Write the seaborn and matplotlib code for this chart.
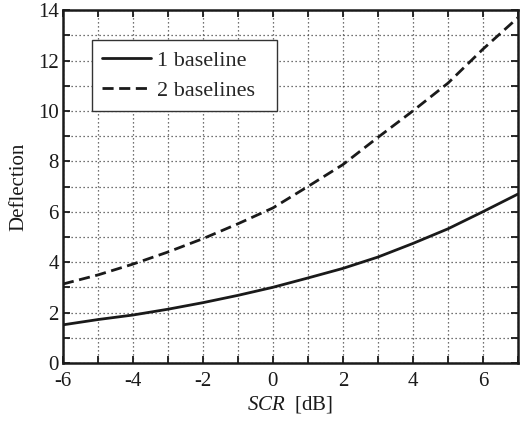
import numpy as np
import pandas as pd
import matplotlib
matplotlib.use("Agg")
import matplotlib.pyplot as plt
import seaborn as sns
from matplotlib.ticker import MultipleLocator, FuncFormatter
from matplotlib.lines import Line2D

scr_db = [-6, -5, -4, -3, -2, -1, 0, 1, 2, 3, 4, 5, 6, 7]
one_baseline = [1.51, 1.72, 1.9, 2.13, 2.39, 2.68, 3.0, 3.37, 3.75, 4.2, 4.74, 5.32, 6.0, 6.7]
two_baselines = [3.13, 3.49, 3.92, 4.4, 4.93, 5.52, 6.15, 7.0, 7.87, 8.95, 10.0, 11.1, 12.45, 13.7]
series_names = ["1 baseline", "2 baselines"]

df = pd.concat([
    pd.DataFrame({"SCR": scr_db, "Deflection": one_baseline, "series": series_names[0]}),
    pd.DataFrame({"SCR": scr_db, "Deflection": two_baselines, "series": series_names[1]}),
])

sns.set_theme(style="ticks")
plt.rcParams["font.family"] = ["Liberation Serif", "DejaVu Serif"]
plt.rcParams["mathtext.fontset"] = "custom"
plt.rcParams["mathtext.it"] = "Liberation Serif:italic"
plt.rcParams["mathtext.rm"] = "Liberation Serif"

ink = "#1a1a1a"
fig = plt.figure(figsize=(5.2, 4.21), dpi=100)
ax = fig.add_axes([0.121, 0.138, 0.875, 0.838])

sns.lineplot(data=df, x="SCR", y="Deflection", hue="series", style="series",
             palette=[ink, ink], dashes={series_names[0]: "", series_names[1]: (4, 2)},
             linewidth=2.0, ax=ax, legend=False, sort=False)

ax.set_xlim(-6, 7)
ax.set_ylim(0, 14)
ax.xaxis.set_major_locator(MultipleLocator(1))
ax.yaxis.set_major_locator(MultipleLocator(1))
even = FuncFormatter(lambda v, p: f"{int(round(v))}" if int(round(v)) % 2 == 0 else "")
ax.xaxis.set_major_formatter(even)
ax.yaxis.set_major_formatter(even)
ax.tick_params(direction="in", length=5, width=1.3, top=True, right=True,
               labelsize=15, colors=ink)
ax.tick_params(axis="x", pad=6.5)
ax.tick_params(axis="y", pad=3)
ax.grid(True, linestyle=(0, (1, 2.2)), color="#444444", linewidth=0.9)
for s in ax.spines.values():
    s.set_visible(True)
    s.set_linewidth(1.8)
    s.set_color(ink)

ax.set_xlabel(r"$SCR$  [dB]", fontsize=15, color=ink, labelpad=2)
ax.set_ylabel("Deflection", fontsize=15, color=ink, labelpad=7)

handles = [Line2D([], [], color=ink, lw=2.0),
           Line2D([], [], color=ink, lw=2.0, dashes=(4, 2))]
leg = ax.legend(handles, series_names, loc="upper left",
                bbox_to_anchor=(0.0637, 0.717, 0.407, 0.198), mode="expand",
                borderaxespad=0, fontsize=16, handlelength=2.2, handletextpad=0.3,
                fancybox=False, framealpha=1, edgecolor="#333333", labelspacing=0.45,
                borderpad=0.45)
leg.get_frame().set_linewidth(1.0)

fig.savefig("out.png", dpi=100)
